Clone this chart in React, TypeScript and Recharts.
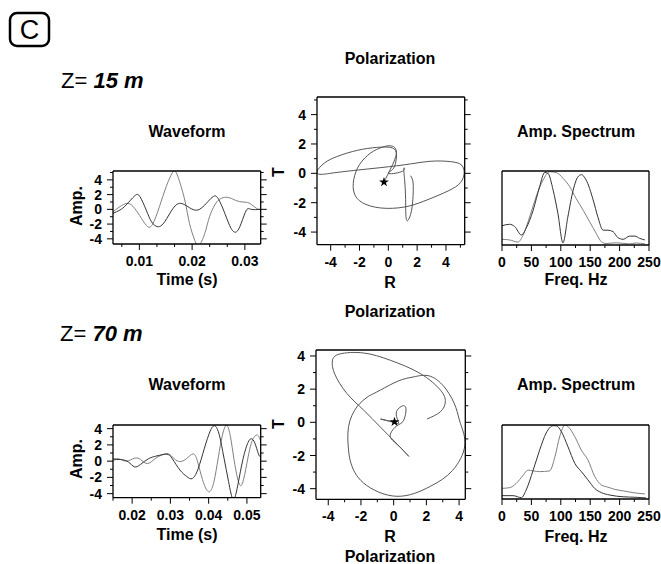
import React from "react";
import { ComposedChart, Line, XAxis, YAxis, ReferenceDot, Symbols } from "recharts";

const FONT = '"Liberation Sans", Arial, Helvetica, sans-serif';

// z = 15 m, waveform (time s, amplitude)
const wave15Dark: [number, number][] = [
  [0.005, -0.55], [0.0063, -0.1], [0.0075, 0.6], [0.0091, 1.82], [0.0101, 1.73],
  [0.0113, -0.1], [0.0123, -1.68], [0.0135, -2.36], [0.0148, -1.68], [0.0164, 0.14],
  [0.0178, 0.82], [0.0192, 0.36], [0.0205, -0.1], [0.0217, 0.14], [0.023, 1.05],
  [0.024, 1.73], [0.0249, 1.5], [0.0262, -0.55], [0.0274, -2.6], [0.0284, -3.05],
  [0.0293, -1.9], [0.0303, -0.1], [0.0312, 0], [0.033, 0],
];
const wave15Light: [number, number][] = [
  [0.005, -0.32], [0.0063, 0.36], [0.0078, 0.82], [0.0091, 0.14], [0.0104, -1.23],
  [0.0116, -2.36], [0.0126, -1.9], [0.0138, 0.36], [0.0151, 3.1], [0.0164, 5.1],
  [0.0173, 4.45], [0.0186, 1.27], [0.0195, -1.9], [0.0205, -4.2], [0.0213, -4.9],
  [0.0224, -3.27], [0.0233, -1.0], [0.0243, 0.6], [0.0252, 1.36], [0.0265, 1.64],
  [0.0278, 1.36], [0.029, 1.05], [0.0303, 0.95], [0.0312, 0.68], [0.0322, 0.14], [0.033, 0],
];

// z = 70 m, waveform
const wave70Dark: [number, number][] = [
  [0.015, 0.15], [0.017, 0.2], [0.019, -0.1], [0.0206, -0.7], [0.0222, -0.4],
  [0.0243, 0.3], [0.0265, 0.65], [0.029, 0.85], [0.0305, 0.3], [0.0325, -1.1],
  [0.0343, -1.9], [0.0357, -2.15], [0.0372, -1.0], [0.0389, 1.6], [0.0404, 3.7],
  [0.0416, 4.35], [0.0428, 3.2], [0.044, 0.4], [0.0452, -2.5], [0.0464, -4.7],
  [0.0476, -3.0], [0.049, 0.3], [0.0503, 2.3], [0.0512, 2.75], [0.0521, 2.2],
  [0.053, 0.9], [0.0536, 0.5],
];
const wave70Light: [number, number][] = [
  [0.015, 0.3], [0.0168, 0.25], [0.0185, 0.0], [0.0206, 0.35], [0.0222, 0.2],
  [0.024, -0.3], [0.026, 0.3], [0.028, 0.8], [0.0295, 0.9], [0.031, 0.3],
  [0.0325, -0.05], [0.0342, 0.3], [0.0359, 0.9], [0.037, 0.1], [0.0381, -1.8],
  [0.0392, -3.3], [0.0403, -3.75], [0.0414, -2.5], [0.0425, 0.4], [0.0436, 3.2],
  [0.0447, 4.4], [0.0457, 3.0], [0.0466, 0.3], [0.0476, -2.2], [0.0486, -2.95],
  [0.0497, -1.0], [0.0508, 1.6], [0.0518, 2.9], [0.0528, 3.2], [0.0536, 2.5],
];

// polarization (R, T)
const polar15: [number, number][] = [
  [-0.3, -0.6], [-0.05, -0.1], [0.3, 0.6], [0.55, 1.3], [0.45, 1.75], [0.05, 1.88],
  [-0.5, 1.75], [-1.22, 1.39], [-2.0, 0.6], [-2.4, -0.43], [-2.37, -1.34], [-1.8, -2.0],
  [-0.53, -2.36], [1.08, -2.3], [2.46, -1.9], [3.84, -1.34], [4.87, -0.77], [5.25, -0.1],
  [5.1, 0.55], [4.3, 0.8], [2.9, 0.82], [1.1, 0.58], [-1.2, 0.32], [-3.5, 0.07],
  [-4.67, -0.07], [-4.94, 0.14], [-4.44, 0.7], [-3.52, 1.16], [-2.14, 1.57], [-0.76, 1.77],
  [0.28, 1.73], [0.57, 1.27], [0.5, 0.7], [0.28, 0.25], [0.05, -0.02], [0.97, 0.14],
  [1.08, 0.36], [1.13, -0.43], [1.2, -1.8], [1.26, -3.16], [1.54, -2.82], [1.7, -1.8],
  [1.72, -0.66], [1.54, -0.16],
];
const polar70: [number, number][] = [
  [0.05, 0.03], [-0.4, 0.1], [-0.8, 0.2], [-0.2, 0.05], [0.3, -0.05], [0.15, 0.5],
  [0.45, 0.95], [0.75, 0.85], [0.6, 0.1], [0.2, -0.2], [-0.2, -0.7], [-0.05, -1.1],
  [0.5, -1.6], [0.92, -2.05], [0.2, -1.3], [-0.8, -0.3], [-1.84, 0.74], [-2.86, 1.74],
  [-3.6, 2.9], [-3.75, 3.7], [-3.3, 4.12], [-1.84, 4.18], [-0.2, 3.74], [1.63, 2.94],
  [2.86, 1.94], [3.16, 1.24], [2.86, 0.64], [2.04, 0.2],
];
const polar70Loop: [number, number][] = [
  [-1.5, 1.6], [-0.82, 1.94], [0.3, 2.5], [1.22, 2.74], [2.24, 2.78], [3.2, 2.0],
  [3.8, 0.9], [4.08, -0.06], [4.35, -1.4], [3.6, -2.9], [2.24, -3.86], [0.2, -4.46],
  [-1.84, -3.66], [-2.6, -2.5], [-2.76, -1.66], [-2.76, -0.26], [-2.24, 0.94], [-1.5, 1.6],
];
const star15: [number, number] = [-0.3, -0.6];
const star70: [number, number] = [0.05, 0.03];

// amplitude spectra (Hz, normalised)
const spec15Dark: [number, number][] = [
  [0, 0.26], [13, 0.28], [21.5, 0.25], [33, 0.135], [41, 0.225], [53, 0.47], [64, 0.79],
  [72.6, 0.98], [78, 0.97], [87, 0.74], [95, 0.43], [103.7, 0.03], [112, 0.38], [121, 0.74],
  [129, 0.92], [135, 0.95], [143, 0.88], [155, 0.61], [163, 0.38], [172, 0.2], [180, 0.2],
  [189, 0.18], [197, 0.1], [206, 0.077], [217, 0.12], [226, 0.12], [234, 0.09], [243, 0.068],
];
const spec15Light: [number, number][] = [
  [0, 0.077], [13, 0.068], [27, 0.04], [36, 0.135], [47, 0.38], [58, 0.65], [70, 0.88],
  [81, 0.99], [92, 0.98], [104, 0.9], [115, 0.79], [126, 0.63], [138, 0.47], [149, 0.315],
  [160, 0.16], [169, 0.045], [177, 0.02], [194, 0.03], [217, 0.015], [228, 0.027], [243, 0.015],
];
const spec70Dark: [number, number][] = [
  [0, 0.045], [19, 0.045], [33, 0.018], [41, 0.12], [53, 0.39], [64, 0.66], [75, 0.89],
  [87, 0.99], [92, 0.99], [101, 0.91], [112, 0.71], [124, 0.48], [135, 0.37], [146, 0.26],
  [158, 0.14], [169, 0.086], [183, 0.054], [206, 0.03], [228, 0.023], [245, 0.014],
];
const spec70Light: [number, number][] = [
  [0, 0.144], [13, 0.153], [24, 0.21], [36, 0.32], [44, 0.39], [53, 0.38], [64, 0.37],
  [81, 0.38], [90, 0.57], [98, 0.84], [107, 1.0], [112, 0.98], [124, 0.84], [135, 0.66],
  [146, 0.53], [158, 0.3], [169, 0.19], [180, 0.16], [192, 0.13], [206, 0.11], [223, 0.086],
  [243, 0.068],
];

// ticks
const waveTicks15 = [0.00667, 0.01, 0.01333, 0.01667, 0.02, 0.02333, 0.02667, 0.03];
const waveLabels15 = [0.01, 0.02, 0.03];
const waveTicks70 = [0.015, 0.02, 0.025, 0.03, 0.035, 0.04, 0.045, 0.05];
const waveLabels70 = [0.02, 0.03, 0.04, 0.05];
const ampTicks15 = [-4, -3, -2, -1, 0, 1, 2, 3, 4, 5];
const ampTicks70 = [-4, -3, -2, -1, 0, 1, 2, 3, 4];
const ampLabels = [-4, -2, 0, 2, 4];
const polTicks15x = [-4, -3, -2, -1, 0, 1, 2, 3, 4, 5];
const polTicks15y = [-4, -3, -2, -1, 0, 1, 2, 3, 4, 5];
const polTicks70 = [-4, -3, -2, -1, 0, 1, 2, 3, 4];
const polLabels = [-4, -2, 0, 2, 4];
const freqTicks = [0, 25, 50, 75, 100, 125, 150, 175, 200, 225, 250];
const freqLabels = [0, 50, 100, 150, 200, 250];

const pts = (arr: [number, number][]) => arr.map(([x, y]) => ({ x, y }));

const PAD_L = 40;
const PAD_R = 12;
const PAD_T = 10;
const PAD_B = 30;
const AXIS = { stroke: "#000", strokeWidth: 1.3 };

function Tick(props: any) {
  const { x, y, payload, side, labels, fmt, showText } = props;
  const v = payload.value;
  const major = (labels || []).some((m: number) => Math.abs(m - v) < 1e-7);
  const len = major ? 6 : 3;
  const txt = showText && major ? (fmt ? fmt(v) : String(v)) : null;
  const tStyle = { fontFamily: FONT, fontWeight: 700, fontSize: 14, fill: "#000" };
  if (side === "bottom")
    return (
      <g>
        <line x1={x} y1={y} x2={x} y2={y + len} stroke="#000" strokeWidth={1} />
        {txt && <text x={x} y={y + 22} textAnchor="middle" style={tStyle}>{txt}</text>}
      </g>
    );
  if (side === "top")
    return <line x1={x} y1={y} x2={x} y2={y - len} stroke="#000" strokeWidth={1} />;
  if (side === "left")
    return (
      <g>
        <line x1={x} y1={y} x2={x - len} y2={y} stroke="#000" strokeWidth={1} />
        {txt && <text x={x - 11} y={y + 5} textAnchor="end" style={tStyle}>{txt}</text>}
      </g>
    );
  return <line x1={x} y1={y} x2={x + len} y2={y} stroke="#000" strokeWidth={1} />;
}

type Box = { x: number; y: number; w: number; h: number };

function Panel(props: {
  box: Box;
  xDomain: [number, number];
  yDomain: [number, number];
  xTicks: number[];
  xLabels: number[];
  xFmt?: (v: number) => string;
  yTicks?: number[];
  yLabels?: number[];
  children: React.ReactNode;
}) {
  const { box, xDomain, yDomain, xTicks, xLabels, xFmt, yTicks, yLabels, children } = props;
  const common = {
    type: "number" as const,
    allowDataOverflow: true,
    interval: 0 as const,
    tickSize: 0,
    tickMargin: 0,
    tickLine: false,
    axisLine: AXIS,
  };
  return (
    <div style={{ position: "absolute", left: box.x - PAD_L, top: box.y - PAD_T }}>
      <ComposedChart
        width={box.w + PAD_L + PAD_R}
        height={box.h + PAD_T + PAD_B}
        margin={{ top: 0, right: 0, bottom: 0, left: 0 }}
      >
        <XAxis {...common} xAxisId={0} dataKey="x" domain={xDomain} ticks={xTicks} height={PAD_B}
          tick={<Tick side="bottom" labels={xLabels} fmt={xFmt} showText />} />
        <XAxis {...common} xAxisId="top" orientation="top" domain={xDomain} ticks={xTicks} height={PAD_T}
          tick={<Tick side="top" labels={xLabels} />} />
        <YAxis {...common} yAxisId={0} domain={yDomain} ticks={yTicks} width={PAD_L}
          tick={yTicks ? <Tick side="left" labels={yLabels} showText /> : false} />
        <YAxis {...common} yAxisId="right" orientation="right" domain={yDomain} ticks={yTicks} width={PAD_R}
          tick={yTicks ? <Tick side="right" labels={yLabels} /> : false} />
        {children}
      </ComposedChart>
    </div>
  );
}

function trace(data: [number, number][], color: string, type: any = "natural") {
  return (
    <Line data={pts(data)} dataKey="y" type={type} stroke={color} strokeWidth={1}
      dot={false} activeDot={false} isAnimationActive={false} />
  );
}

const StarShape = (p: any) => <Symbols cx={p.cx} cy={p.cy} type="star" size={30} fill="#000" />;

const DARK = "#333";
const LIGHT = "#808080";

export default function App() {
  const t = { fontFamily: FONT, fontWeight: 700, fontSize: 16, fill: "#000" };
  return (
    <div style={{ position: "absolute", left: 0, top: 0, width: 661, height: 564, background: "#fff", overflow: "hidden" }}>
      <Panel box={{ x: 113.3, y: 171, w: 147.7, h: 73 }} xDomain={[0.005, 0.033]} yDomain={[-4.7, 5.2]}
        xTicks={waveTicks15} xLabels={waveLabels15} xFmt={(v) => v.toFixed(2)} yTicks={ampTicks15} yLabels={ampLabels}>
        {trace(wave15Light, LIGHT)}
        {trace(wave15Dark, DARK)}
      </Panel>
      <Panel box={{ x: 316.5, y: 97.3, w: 147.7, h: 147.7 }} xDomain={[-4.95, 5.3]} yDomain={[-4.86, 5.2]}
        xTicks={polTicks15x} xLabels={polLabels} yTicks={polTicks15y} yLabels={polLabels}>
        {trace(polar15, "#555")}
        <ReferenceDot x={star15[0]} y={star15[1]} r={4} shape={StarShape} ifOverflow="visible" />
      </Panel>
      <Panel box={{ x: 502.3, y: 171, w: 147, h: 74 }} xDomain={[0, 250]} yDomain={[0, 1]}
        xTicks={freqTicks} xLabels={freqLabels}>
        {trace(spec15Light, LIGHT, "monotone")}
        {trace(spec15Dark, DARK, "monotone")}
      </Panel>

      <Panel box={{ x: 113.3, y: 425, w: 147.7, h: 72.7 }} xDomain={[0.015, 0.0536]} yDomain={[-4.5, 4.45]}
        xTicks={waveTicks70} xLabels={waveLabels70} xFmt={(v) => v.toFixed(2)} yTicks={ampTicks70} yLabels={ampLabels}>
        {trace(wave70Light, LIGHT)}
        {trace(wave70Dark, DARK)}
      </Panel>
      <Panel box={{ x: 315.7, y: 350, w: 149.3, h: 149.3 }} xDomain={[-4.75, 4.38]} yDomain={[-4.64, 4.36]}
        xTicks={polTicks70} xLabels={polLabels} yTicks={polTicks70} yLabels={polLabels}>
        {trace(polar70Loop, "#555")}
        {trace(polar70, "#555")}
        <ReferenceDot x={star70[0]} y={star70[1]} r={4} shape={StarShape} ifOverflow="visible" />
      </Panel>
      <Panel box={{ x: 502.3, y: 425, w: 147, h: 74 }} xDomain={[0, 250]} yDomain={[0, 1]}
        xTicks={freqTicks} xLabels={freqLabels}>
        {trace(spec70Light, LIGHT, "monotone")}
        {trace(spec70Dark, DARK, "monotone")}
      </Panel>

      <svg width={661} height={564} style={{ position: "absolute", left: 0, top: 0, pointerEvents: "none" }}>
        <rect x={10} y={13} width={39} height={33} rx={7} fill="none" stroke="#000" strokeWidth={2.5} />
        <text x={29.5} y={39} textAnchor="middle" style={{ fontFamily: FONT, fontSize: 27, fill: "#000" }}>C</text>

        <text x={61} y={88} style={{ fontFamily: FONT, fontSize: 22, fill: "#000" }}>
          Z=<tspan fontWeight={700} fontStyle="italic"> 15 m</tspan>
        </text>
        <text x={60} y={341} style={{ fontFamily: FONT, fontSize: 22, fill: "#000" }}>
          Z=<tspan fontWeight={700} fontStyle="italic"> 70 m</tspan>
        </text>

        <text x={390} y={63.5} textAnchor="middle" style={t}>Polarization</text>
        <text x={187} y={137} textAnchor="middle" style={t}>Waveform</text>
        <text x={576} y={137} textAnchor="middle" style={t}>Amp. Spectrum</text>
        <text x={187} y={285} textAnchor="middle" style={t}>Time (s)</text>
        <text x={390} y={288} textAnchor="middle" style={t}>R</text>
        <text x={576} y={285} textAnchor="middle" style={t}>Freq. Hz</text>
        <text transform="translate(82,206) rotate(-90)" textAnchor="middle" style={t}>Amp.</text>
        <text transform="translate(284,172) rotate(-90)" textAnchor="middle" style={t}>T</text>

        <text x={390} y={316.5} textAnchor="middle" style={t}>Polarization</text>
        <text x={187} y={390} textAnchor="middle" style={t}>Waveform</text>
        <text x={576} y={390} textAnchor="middle" style={t}>Amp. Spectrum</text>
        <text x={187} y={540} textAnchor="middle" style={t}>Time (s)</text>
        <text x={390} y={541.5} textAnchor="middle" style={t}>R</text>
        <text x={576} y={542} textAnchor="middle" style={t}>Freq. Hz</text>
        <text transform="translate(82,459) rotate(-90)" textAnchor="middle" style={t}>Amp.</text>
        <text transform="translate(284,424) rotate(-90)" textAnchor="middle" style={t}>T</text>
        <text x={390} y={562} textAnchor="middle" style={t}>Polarization</text>
      </svg>
    </div>
  );
}
